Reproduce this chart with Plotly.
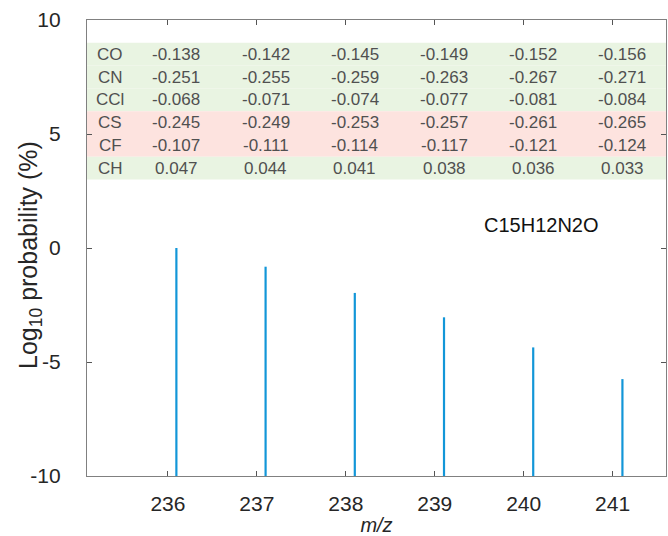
import plotly.graph_objects as go

# ---- data ----
mz = [236.095, 237.098, 238.101, 239.104, 240.107, 241.110]
log_prob = [0.0, -0.82, -1.97, -3.04, -4.36, -5.75]
x_ticks = [236, 237, 238, 239, 240, 241]
y_ticks = [-10, -5, 0, 5, 10]
formula = "C15H12N2O"

row_labels = ["CO", "CN", "CCl", "CS", "CF", "CH"]
row_values = [
    [-0.138, -0.142, -0.145, -0.149, -0.152, -0.156],
    [-0.251, -0.255, -0.259, -0.263, -0.267, -0.271],
    [-0.068, -0.071, -0.074, -0.077, -0.081, -0.084],
    [-0.245, -0.249, -0.253, -0.257, -0.261, -0.265],
    [-0.107, -0.111, -0.114, -0.117, -0.121, -0.124],
    [0.047, 0.044, 0.041, 0.038, 0.036, 0.033],
]
row_y = [8.5, 7.5, 6.5, 5.5, 4.5, 3.5]
row_band = ["g", "g", "g", "r", "r", "g"]

XMIN, XMAX = 235.09, 241.6
YMIN, YMAX = -10, 10
STEM_COLOR = "#1296d8"
GREEN = "rgb(233,244,226)"
RED = "rgb(253,227,223)"
TXT = "#505050"
FONT = "Liberation Sans, Arial, sans-serif"

# stems
xs, ys = [], []
for x, y in zip(mz, log_prob):
    xs += [x, x, None]
    ys += [YMIN, y, None]

fig = go.Figure()
fig.add_trace(go.Scatter(x=xs, y=ys, mode="lines",
                         line=dict(color=STEM_COLOR, width=2.2),
                         hoverinfo="skip", showlegend=False))

shapes = []
for yc, band in zip(row_y, row_band):
    shapes.append(dict(type="rect", xref="x", yref="y",
                       x0=XMIN, x1=XMAX, y0=yc - 0.5, y1=yc + 0.5,
                       fillcolor=GREEN if band == "g" else RED,
                       line=dict(width=0), layer="below"))

annotations = []
font_tbl = dict(family=FONT, size=17, color=TXT)
for lab, vals, yc in zip(row_labels, row_values, row_y):
    annotations.append(dict(x=235.35, y=yc, xref="x", yref="y", text=lab,
                            showarrow=False, font=font_tbl,
                            xanchor="center", yanchor="middle"))
    for x, v in zip(mz, vals):
        annotations.append(dict(x=x, y=yc, xref="x", yref="y", text=f"{v:.3f}",
                                showarrow=False, font=font_tbl,
                                xanchor="center", yanchor="middle"))

annotations.append(dict(x=240.2, y=1.0, xref="x", yref="y", text=formula,
                        showarrow=False,
                        font=dict(family=FONT, size=20, color="#111111"),
                        xanchor="center", yanchor="middle"))

# y-axis title as rotated annotation
annotations.append(dict(x=0, y=0.5, xref="paper", yref="paper",
                        text="Log<sub>10</sub> probability (%)", textangle=-90,
                        showarrow=False, xanchor="center", yanchor="middle",
                        xshift=-57, yshift=-7,
                        font=dict(family=FONT, size=25, color="#262626")))

axis_common = dict(showline=True, linecolor="#808080", linewidth=1.2,
                   mirror="ticks", ticks="inside", ticklen=5,
                   tickcolor="#555555", tickwidth=1, showgrid=False,
                   zeroline=False, automargin=False,
                   tickfont=dict(family=FONT, size=21, color="#262626"))

fig.update_layout(
    width=668, height=536,
    margin=dict(l=87, r=2, t=20, b=60),
    plot_bgcolor="white", paper_bgcolor="white",
    shapes=shapes, annotations=annotations,
    xaxis=dict(range=[XMIN, XMAX], tickvals=x_ticks,
               ticktext=[str(t) for t in x_ticks],
               ticklabelstandoff=9,
               title=dict(text="<i>m/z</i>", standoff=6,
                          font=dict(family=FONT, size=20, color="#262626")),
               **axis_common),
    yaxis=dict(range=[YMIN, YMAX], tickvals=y_ticks,
               ticktext=[str(t) for t in y_ticks],
               ticklabelstandoff=21,
               **axis_common),
)

fig.write_html("out.html",
               config={"displayModeBar": False},
               post_script="document.body.style.margin='0';document.body.style.padding='0';")
